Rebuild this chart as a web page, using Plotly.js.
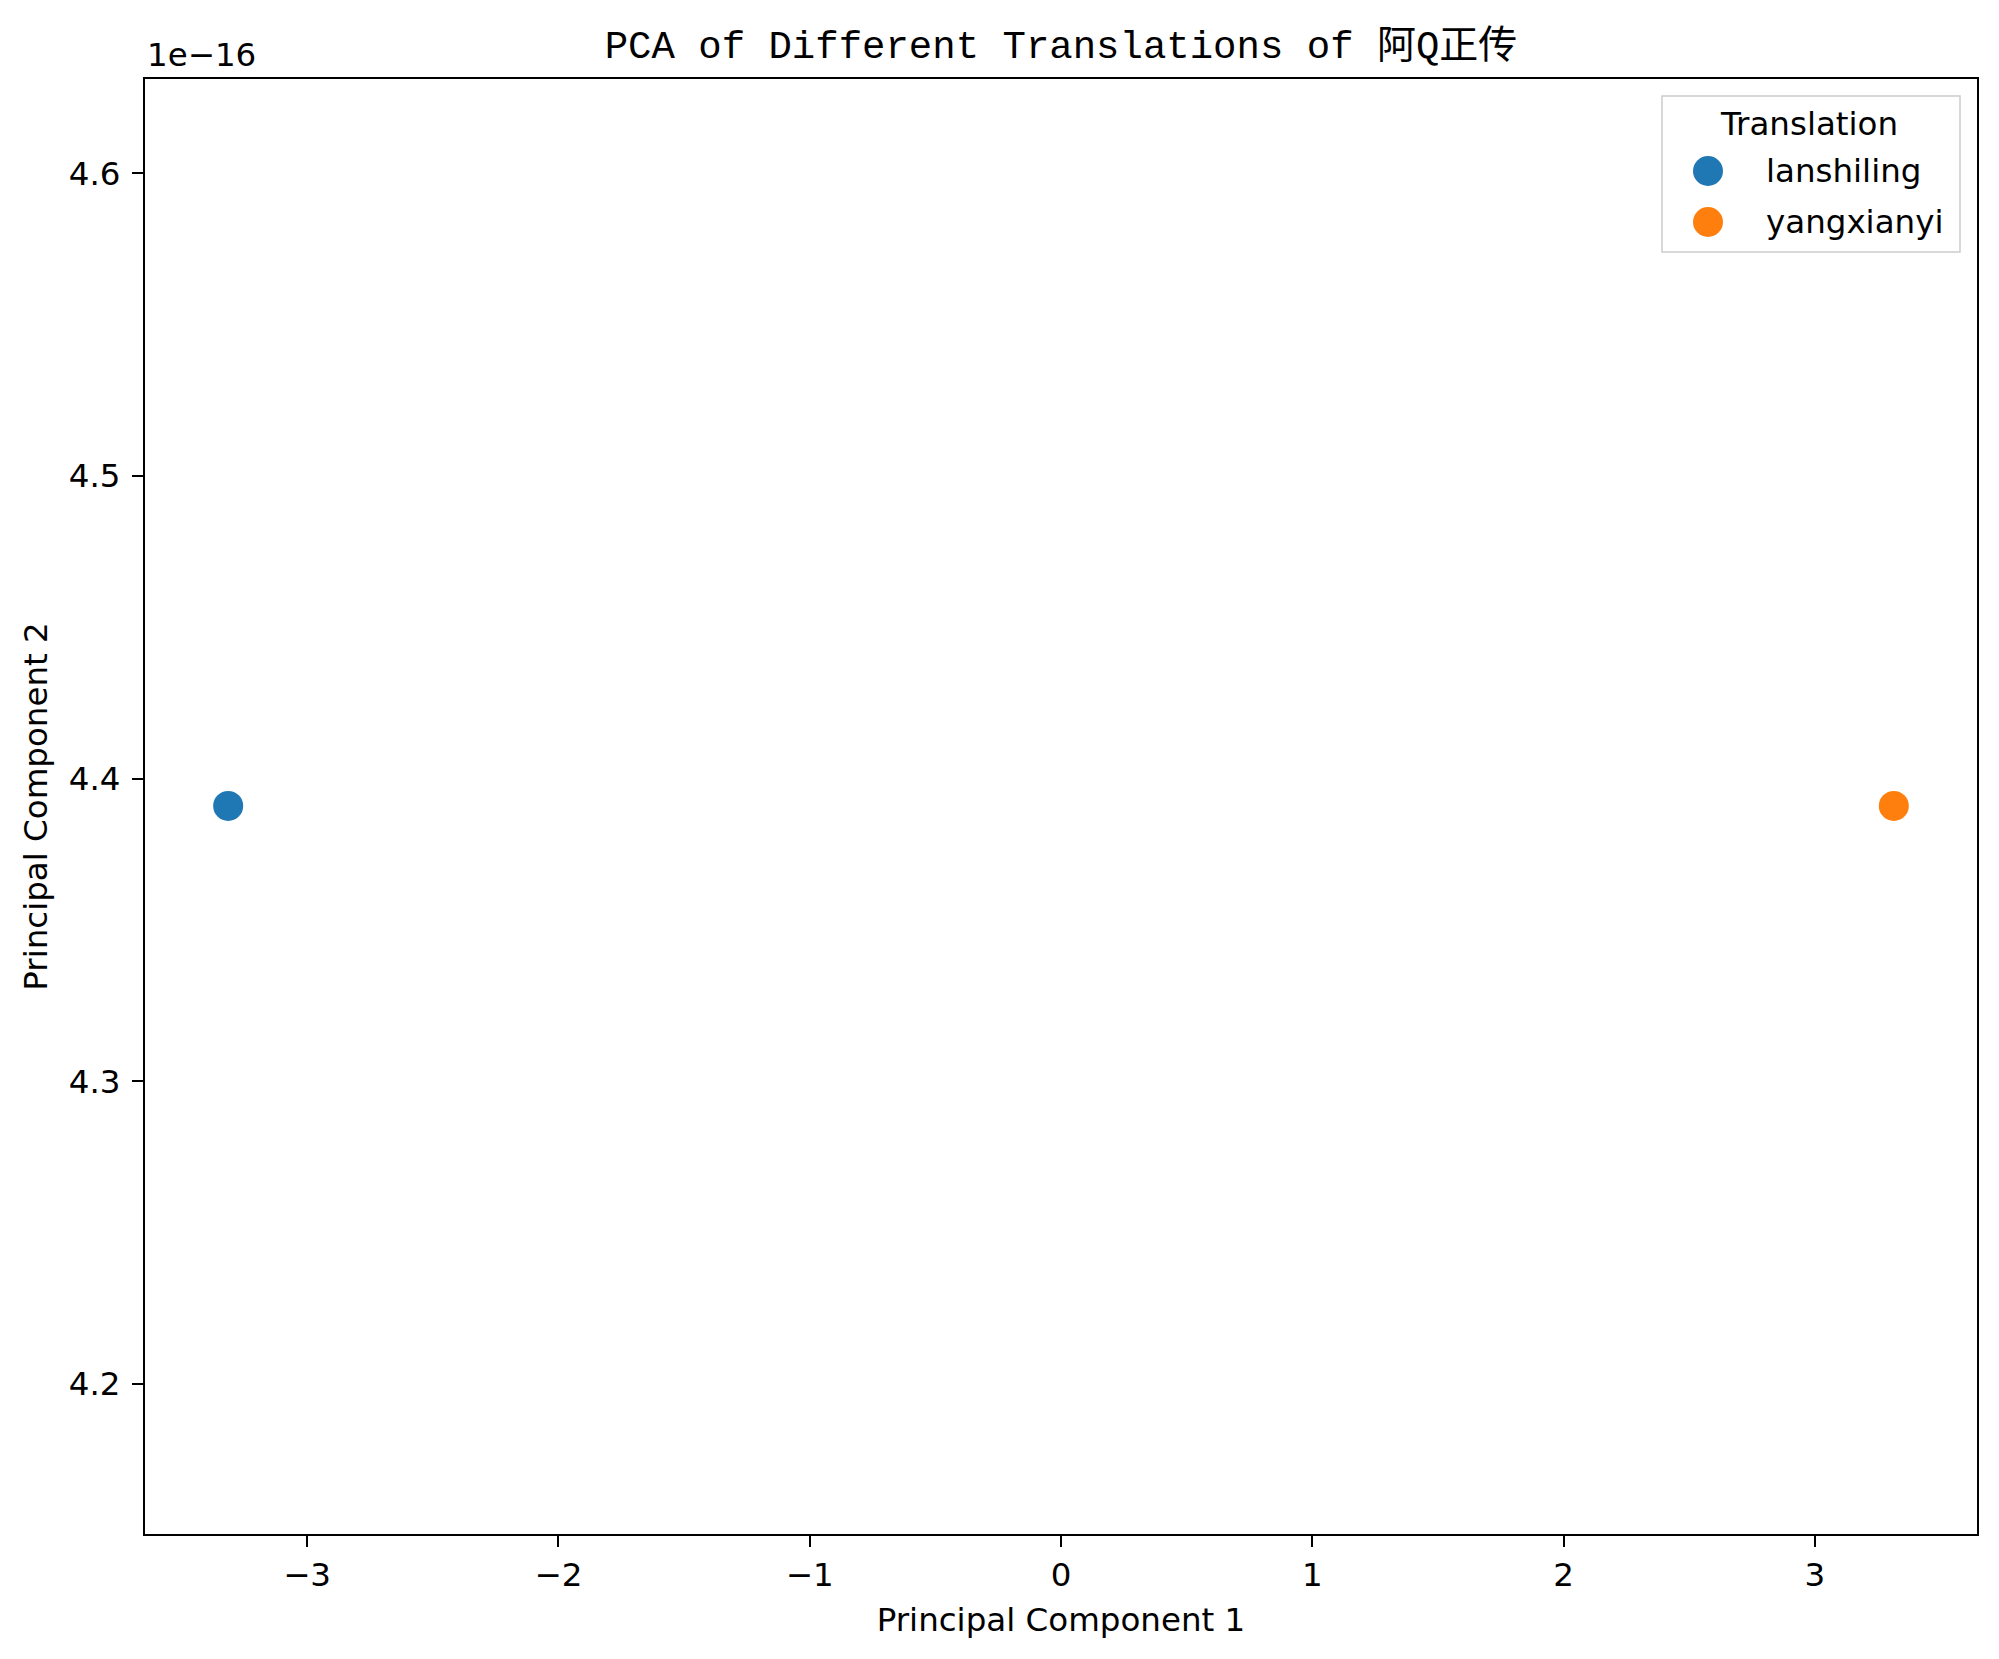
<!DOCTYPE html>
<html>
<head>
<meta charset="utf-8">
<script src="https://cdn.plot.ly/plotly-3.0.1.min.js"></script>
<style>html,body{margin:0;padding:0;background:#fff;}#chart{width:1999px;height:1659px;}</style>
</head>
<body>
<div id="chart"></div>
<script>
// Data
var translations = ["lanshiling", "yangxianyi"];
var pc1 = [-3.314, 3.314];
var pc2 = [4.391e-16, 4.391e-16];
var colors = ["#1f77b4", "#ff7f0e"];
var yScale = 1e-16;          // offset-text multiplier shown as "1e−16"
var xTicks = [-3, -2, -1, 0, 1, 2, 3];
var yTicks = [4.2, 4.3, 4.4, 4.5, 4.6];
var legendTitle = "Translation";

var W = 1999, H = 1659;
var M = {l: 145, r: 22, t: 79, b: 125};
var PW = W - M.l - M.r, PH = H - M.t - M.b;
function px(x) { return (x - M.l) / PW; }
function py(y) { return 1 - (y - M.t) / PH; }

var font = "DejaVu Sans, sans-serif";
var FS = 32.5;
var traces = translations.map(function (name, i) {
  return {
    type: "scatter", mode: "markers", name: name,
    x: [pc1[i]], y: [pc2[i] / yScale],
    marker: {color: colors[i], size: 30}
  };
});

// Matplotlib-style legend (larger markers than Plotly's native legend allows)
var shapes = [{
  type: "rect", xref: "paper", yref: "paper",
  x0: px(1662), x1: px(1960), y0: py(252), y1: py(96),
  line: {color: "#cccccc", width: 1.5}, fillcolor: "rgba(255,255,255,0.8)", layer: "above"
}];
var annotations = [{
  text: "1e−16", xref: "paper", yref: "paper", x: 0, y: 1,
  xanchor: "left", yanchor: "bottom", yshift: 3, showarrow: false,
  font: {family: font, size: FS}
}, {
  text: legendTitle, xref: "paper", yref: "paper", x: px(1809), y: py(124),
  xanchor: "center", yanchor: "middle", showarrow: false,
  font: {family: font, size: FS}
}];
var rowY = [171, 222];
translations.forEach(function (name, i) {
  shapes.push({
    type: "circle", xref: "paper", yref: "paper",
    xsizemode: "pixel", ysizemode: "pixel",
    xanchor: px(1708), yanchor: py(rowY[i]),
    x0: -15, x1: 15, y0: -15, y1: 15,
    fillcolor: colors[i], line: {width: 0}, layer: "above"
  });
  annotations.push({
    text: name, xref: "paper", yref: "paper", x: px(1764), y: py(rowY[i]),
    xanchor: "left", yanchor: "middle", showarrow: false,
    font: {family: font, size: FS}
  });
});

var layout = {
  width: W, height: H,
  paper_bgcolor: "#fff", plot_bgcolor: "#fff",
  margin: M,
  font: {family: font, size: FS, color: "#000"},
  showlegend: false,
  title: {
    text: "PCA of Different Translations of 阿Q正传",
    font: {family: "Liberation Mono, Noto Sans CJK SC, monospace", size: 39, color: "#000"},
    xref: "paper", x: 0.5, xanchor: "center",
    yref: "container", y: 0.973, yanchor: "middle"
  },
  xaxis: {
    range: [-3.645, 3.645], tickvals: xTicks,
    showgrid: false, zeroline: false,
    showline: true, mirror: true, linecolor: "#000", linewidth: 2,
    ticks: "outside", ticklen: 11, tickwidth: 2, tickcolor: "#000",
    tickfont: {family: font, size: FS},
    title: {text: "Principal Component 1", font: {family: font, size: FS}, standoff: 15}
  },
  yaxis: {
    range: [4.1504, 4.6312], tickvals: yTicks, tickformat: ".1f",
    showgrid: false, zeroline: false,
    showline: true, mirror: true, linecolor: "#000", linewidth: 2,
    ticks: "outside", ticklen: 11, tickwidth: 2, tickcolor: "#000",
    ticklabelstandoff: 5,
    tickfont: {family: font, size: FS},
    title: {text: "Principal Component 2", font: {family: font, size: FS}, standoff: 11}
  },
  shapes: shapes,
  annotations: annotations
};

Plotly.newPlot("chart", traces, layout, {displayModeBar: false, staticPlot: true});
</script>
</body>
</html>
